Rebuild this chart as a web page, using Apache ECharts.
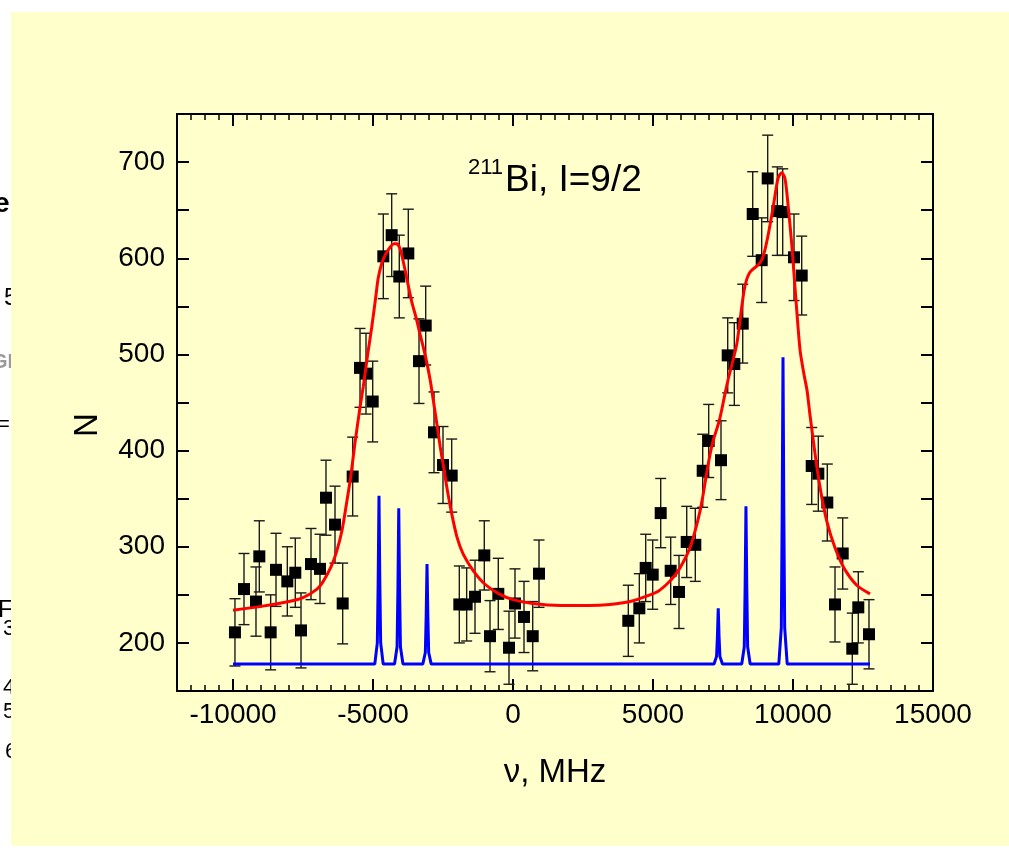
<!DOCTYPE html>
<html>
<head>
<meta charset="utf-8">
<title>211Bi, I=9/2</title>
<script src="https://cdn.jsdelivr.net/npm/echarts@6/dist/echarts.min.js"></script>
<style>
  html, body { margin: 0; padding: 0; background: #ffffff; }
  #chart { width: 1009px; height: 851px; }
</style>
</head>
<body>
<div id="chart"></div>
<script>
// Measured counts N with their uncertainties, frequency in MHz
const freqs = [-9930, -9607, -9179, -9060, -8655, -8464, -8060, -7775, -7571, -7214, -6893, -6679, -6357, -6083, -5726,
  -5464, -5250, -5011, -4632, -4333, -4061, -3739, -3357, -3118, -2821, -2500, -2190,
  -1917, -1655, -1357, -1025, -821, -525, -143, 71, 393, 704, 929,
  4118, 4511, 4739, 4989, 5275, 5632, 5929, 6204, 6511, 6775, 6989, 7429,
  7668, 7904, 8204, 8561, 8882, 9096, 9440, 9632, 10036, 10311,
  10668, 10904, 11225, 11500, 11775, 12118, 12332, 12714];
const counts = [211, 256, 243, 290, 211, 276, 264, 273, 213, 282, 277, 351, 323, 241, 373,
  486, 480, 451, 602, 624, 581, 605, 493, 530, 419, 385, 374,
  240, 240, 248, 291, 207, 251, 195, 241, 227, 207, 272,
  223, 236, 278, 271, 335, 275, 253, 305, 302, 379, 410, 390,
  499, 490, 532, 646, 598, 683, 649, 648, 601, 582,
  384, 376, 346, 240, 293, 194, 237, 209];
const errors = [35, 37, 36, 37, 39, 38, 36, 36, 39, 37, 36, 39, 40, 42, 41,
  41, 42, 42, 44, 43, 43, 46, 44, 41, 42, 40, 38,
  40, 38, 38, 36, 37, 37, 38, 36, 37, 36, 35,
  37, 36, 35, 36, 36, 35, 38, 37, 38, 38, 38, 41,
  39, 43, 41, 44, 44, 45, 46, 45, 45, 41,
  40, 39, 40, 39, 37, 37, 37, 36];

// Fitted profile (red)
const fitFreq = [-10000, -9000, -8000, -7500, -7000, -6800, -6500, -6300, -6100, -5940, -5800, -5643, -5464, -5345, -5200,
  -5047, -4900, -4810, -4650, -4450, -4250, -4150, -4036, -3900, -3750, -3618, -3450, -3321, -3200, -3082,
  -2950, -2845, -2700, -2600, -2450, -2369, -2200, -2000, -1774, -1417, -1000, -500, 0, 700, 1700,
  2700, 3464, 4179, 4893, 5200, 5489, 5750, 5964, 6150, 6321, 6500, 6679, 6800, 6918, 7036,
  7154, 7274, 7393, 7571, 7700, 7868, 8000, 8168, 8250, 8346, 8450, 8582, 8750, 8882, 9000,
  9118, 9200, 9296, 9400, 9475, 9596, 9714, 9832, 9954, 10071, 10250, 10400, 10500, 10607, 10786,
  10964, 11204, 11500, 11857, 12275, 12750];
const fitCounts = [234, 238, 243, 247, 256, 263, 279, 295, 318, 346, 372, 408, 445, 467, 498,
  528, 560, 580, 598, 609, 615, 615, 610, 594, 573, 555, 537, 521, 507, 492,
  472, 452, 424, 404, 378, 363, 336, 310, 292, 275, 261, 251, 245, 241, 239,
  239, 240, 243, 250, 254, 261, 269, 278, 288, 299, 316, 337, 356, 377, 396,
  411, 422, 434, 459, 476, 495, 512, 549, 566, 578, 585, 589, 593, 598, 609,
  625, 638, 654, 673, 684, 689, 683, 653, 615, 570, 505, 478, 463, 437, 397,
  362, 327, 299, 276, 260, 251];

// Hyperfine component spectrum (blue)
const specFreq = [-10000,
  -4936, -4846, -4816, -4786, -4756, -4726, -4636,
  -4230, -4140, -4110, -4080, -4050, -4020, -3930,
  -3221, -3131, -3101, -3071, -3041, -3011, -2921,
  7180, 7270, 7300, 7330, 7360, 7390, 7480,
  8170, 8260, 8290, 8320, 8350, 8380, 8470,
  9493, 9583, 9613, 9643, 9673, 9703, 9793,
  12750];
const specCounts = [178,
  178, 200, 262, 353, 262, 200, 178,
  178, 196, 256, 340, 256, 196, 178,
  178, 190, 228, 282, 228, 190, 178,
  178, 186, 206, 236, 206, 186, 178,
  178, 196, 258, 342, 258, 196, 178,
  178, 216, 334, 497, 334, 216, 178,
  178];

// Axis tick labels
const xTicks = [-10000, -5000, 0, 5000, 10000, 15000];
const yTicks = [200, 300, 400, 500, 600, 700];

const pts = freqs.map((f, i) => [f, counts[i], errors[i]]);
const fitLine = fitFreq.map((f, i) => [f, fitCounts[i]]);
const specLine = specFreq.map((f, i) => [f, specCounts[i]]);

const FONT = '"Liberation Sans", Arial, Helvetica, sans-serif';
const frame = { show: true, onZero: false, lineStyle: { color: '#000', width: 2 } };
const noLine = { show: false, onZero: false };

function xAx(pos, opts) {
  return Object.assign({
    type: 'value', position: pos, min: -12000, max: 15000,
    splitLine: { show: false }, axisLabel: { show: false }
  }, opts);
}
function yAx(pos, opts) {
  return Object.assign({
    type: 'value', position: pos, min: 150, max: 750, interval: 50,
    splitLine: { show: false }, axisLabel: { show: false }
  }, opts);
}

const chart = echarts.init(document.getElementById('chart'), null, { renderer: 'canvas' });
chart.setOption({
  backgroundColor: '#ffffff',
  animation: false,
  grid: { left: 177, top: 114, width: 756, height: 577, containLabel: false },
  xAxis: [
    xAx('bottom', {
      interval: 500, axisLine: frame,
      axisTick: { show: true, inside: true, length: 6, lineStyle: { color: '#000', width: 1.5 } },
      axisLabel: { show: true, customValues: xTicks, formatter: v => String(v),
        fontSize: 28, color: '#000', fontFamily: FONT, margin: 10 }
    }),
    xAx('bottom', {
      interval: 5000, axisLine: noLine,
      axisTick: { show: true, inside: true, length: 12, customValues: xTicks, lineStyle: { color: '#000', width: 2 } }
    }),
    xAx('top', {
      interval: 500, axisLine: frame,
      axisTick: { show: true, inside: true, length: 6, lineStyle: { color: '#000', width: 1.5 } }
    }),
    xAx('top', {
      interval: 5000, axisLine: noLine,
      axisTick: { show: true, inside: true, length: 12, customValues: xTicks, lineStyle: { color: '#000', width: 2 } }
    })
  ],
  yAxis: [
    yAx('left', {
      axisLine: frame,
      axisTick: { show: true, inside: true, length: 12, lineStyle: { color: '#000', width: 2 } },
      axisLabel: { show: true, customValues: yTicks, fontSize: 28, color: '#000', fontFamily: FONT, margin: 12 }
    }),
    yAx('right', {
      axisLine: frame,
      axisTick: { show: true, inside: true, length: 12, lineStyle: { color: '#000', width: 2 } }
    })
  ],
  graphic: [
    // partly hidden text on the left margin
    { type: 'text', z: -20, left: -6, top: 190, style: { text: 'e', font: 'bold 28px ' + FONT, fill: '#000' } },
    { type: 'text', z: -20, left: 4, top: 286, style: { text: '5', font: '24px ' + FONT, fill: '#000' } },
    { type: 'text', z: -20, left: -8, top: 352, style: { text: 'GI', font: 'bold 20px ' + FONT, fill: '#9a9a9a' } },
    { type: 'text', z: -20, left: -3, top: 414, style: { text: '=', font: '22px ' + FONT, fill: '#000' } },
    { type: 'text', z: -20, left: -2, top: 598, style: { text: 'F', font: '24px ' + FONT, fill: '#000' } },
    { type: 'text', z: -20, left: 3, top: 618, style: { text: '3', font: '22px ' + FONT, fill: '#000' } },
    { type: 'text', z: -20, left: 3, top: 677, style: { text: '4', font: '22px ' + FONT, fill: '#000' } },
    { type: 'text', z: -20, left: 3, top: 701, style: { text: '5', font: '22px ' + FONT, fill: '#000' } },
    { type: 'text', z: -20, left: 5, top: 741, style: { text: '6', font: '22px ' + FONT, fill: '#000' } },
    // yellow panel
    { type: 'rect', z: -10, silent: true, shape: { x: 11, y: 12, width: 998, height: 834 }, style: { fill: '#ffffcc' } },
    // axis titles
    { type: 'text', z: 5, x: 88, y: 425, rotation: Math.PI / 2,
      style: { text: 'N', font: '33px ' + FONT, fill: '#000', align: 'center', verticalAlign: 'middle' } },
    { type: 'text', z: 5, x: 555, y: 773,
      style: { text: 'ν, MHz', font: '33px ' + FONT, fill: '#000', align: 'center', verticalAlign: 'middle' } },
    // nucleus label
    { type: 'text', z: 5, x: 468, y: 168,
      style: { text: '211', font: '22px ' + FONT, fill: '#000', align: 'left', verticalAlign: 'middle' } },
    { type: 'text', z: 5, x: 505, y: 181,
      style: { text: 'Bi, I=9/2', font: '37px ' + FONT, fill: '#000', align: 'left', verticalAlign: 'middle' } }
  ],
  series: [
    {
      type: 'custom', name: 'errors', z: 2, clip: false,
      data: pts,
      encode: { x: 0, y: 1 },
      renderItem: function (params, api) {
        const x = api.value(0), y = api.value(1), e = api.value(2);
        const top = api.coord([x, y + e]);
        const bot = api.coord([x, y - e]);
        const w = 5.5;
        const st = { stroke: '#1a1a1a', lineWidth: 1.4 };
        return {
          type: 'group',
          children: [
            { type: 'line', shape: { x1: top[0], y1: top[1], x2: bot[0], y2: bot[1] }, style: st },
            { type: 'line', shape: { x1: top[0] - w, y1: top[1], x2: top[0] + w, y2: top[1] }, style: st },
            { type: 'line', shape: { x1: bot[0] - w, y1: bot[1], x2: bot[0] + w, y2: bot[1] }, style: st }
          ]
        };
      }
    },
    {
      type: 'scatter', name: 'N', z: 3,
      data: pts.map(p => [p[0], p[1]]),
      symbol: 'rect', symbolSize: 12,
      itemStyle: { color: '#000', opacity: 1 }
    },
    {
      type: 'line', name: 'spectrum', z: 4,
      data: specLine, showSymbol: false, smooth: false,
      lineStyle: { color: '#0000ff', width: 3 }
    },
    {
      type: 'line', name: 'fit', z: 5,
      data: fitLine, showSymbol: false, smooth: 0.25,
      lineStyle: { color: '#ff0000', width: 3 }
    }
  ]
});
</script>
</body>
</html>
